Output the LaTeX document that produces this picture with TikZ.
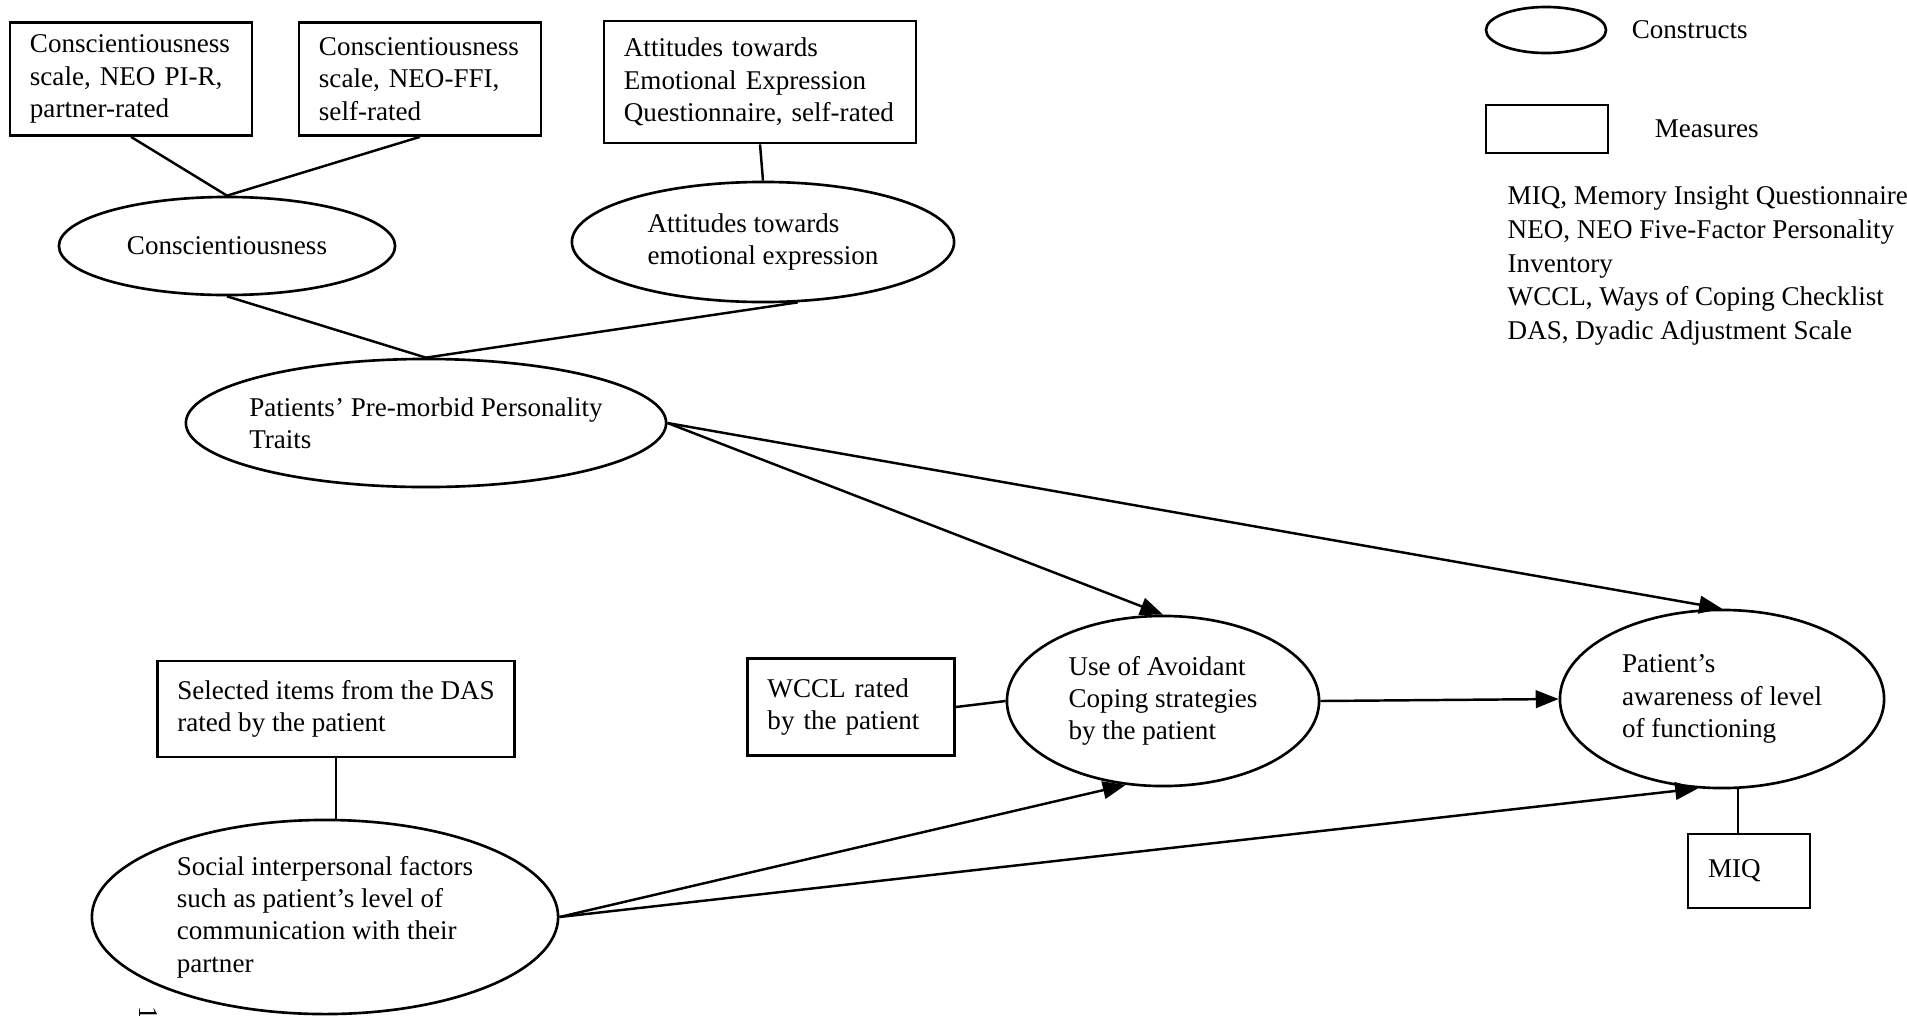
\documentclass[tikz,border=0pt]{standalone}
\usepackage{fontspec}
\setmainfont{Liberation Serif}
\usetikzlibrary{shapes.geometric,arrows.meta,positioning}

\begin{document}
\begin{tikzpicture}[
    x=0.01cm, y=-0.01cm,
    font=\fontsize{7.7}{9.2}\selectfont,
    measure/.style={draw, rectangle, align=left, line width=0.75pt, inner xsep=0.2cm, inner ysep=0pt},
    construct/.style={draw, ellipse, align=left, line width=0.75pt, inner sep=0pt},
    link/.style={line width=0.7pt},
    arrow/.style={-{Triangle[length=6.5pt, width=5pt]}, line width=0.7pt}
]
\useasboundingbox (0,0) rectangle (1907,1015);

\node[measure, text width=2.02cm, minimum height=1.13cm] (npir) at (131,79) {Conscientiousness\\scale, NEO PI-R,\\partner-rated};
\node[measure, text width=2.02cm, minimum height=1.13cm] (ffi) at (420,79) {Conscientiousness\\scale, NEO-FFI,\\self-rated};
\node[measure, text width=2.72cm, minimum height=1.22cm] (aeq) at (760,82) {Attitudes towards\\Emotional Expression\\Questionnaire, self-rated};

\node[construct, minimum width=3.36cm, minimum height=0.98cm] (consc) at (227,246) {Conscientiousness};
\node[construct, minimum width=3.82cm, minimum height=1.20cm] (attit) at (763,242) {Attitudes towards\\emotional expression};
\node[construct, inner xsep=-0.1cm, minimum width=4.80cm, minimum height=1.28cm] (traits) at (426,423) {Patients’ Pre-morbid Personality\\Traits};

\node[measure, inner xsep=0.1cm, minimum width=3.57cm, minimum height=0.96cm] (das) at (336,709) {Selected items from the DAS\\rated by the patient};
\node[construct, minimum width=4.66cm, minimum height=1.94cm] (social) at (325,917) {Social interpersonal factors\\such as patient’s level of\\communication with their\\partner};
\node[measure, text width=1.67cm, minimum height=0.97cm] (wccl) at (851,707) {WCCL rated\\by the patient};
\node[construct, minimum width=3.12cm, minimum height=1.70cm] (avoid) at (1163,701) {Use of Avoidant\\Coping strategies\\by the patient};
\node[construct, minimum width=3.24cm, minimum height=1.78cm] (aware) at (1722,699) {Patient’s\\awareness of level\\of functioning};
\node[measure, text width=0.82cm, minimum height=0.74cm] (miq) at (1749,871) {MIQ};

\node[draw, ellipse, line width=0.75pt, minimum width=1.20cm, minimum height=0.46cm] (lgcon) at (1546,30) {};
\node[right=0.12cm of lgcon] (lgcontxt) {Constructs};
\node[draw, rectangle, line width=0.75pt, minimum width=1.22cm, minimum height=0.48cm] (lgmeas) at (1547,129) {};
\node[right=0.33cm of lgmeas] (lgmeastxt) {Measures};
\node[anchor=north west, align=left, inner sep=0pt, font=\fontsize{7.7}{9.6}\selectfont] (notes) at (1507,185) {MIQ, Memory Insight Questionnaire\\NEO, NEO Five-Factor Personality\\Inventory\\WCCL, Ways of Coping Checklist\\DAS, Dyadic Adjustment Scale};

\node[rotate=-90, inner sep=0pt] (pagemark) at (148,1013) {1};

\foreach \a/\b in {npir.south/consc.north, ffi.south/consc.north, aeq.south/attit.north, consc.south/traits.north, attit.-60/traits.north, wccl.east/avoid.west}
  \draw[link] (\a) -- (\b);
\draw[link] (das.south) -- (das.south |- social.north);
\draw[link] (aware.-80) -- (aware.-80 |- miq.north);

\foreach \a/\b in {traits.east/avoid.north, traits.east/aware.north, avoid.east/aware.west, social.east/avoid.-114, social.east/aware.-105}
  \draw[arrow] (\a) -- (\b);
\end{tikzpicture}
\end{document}
